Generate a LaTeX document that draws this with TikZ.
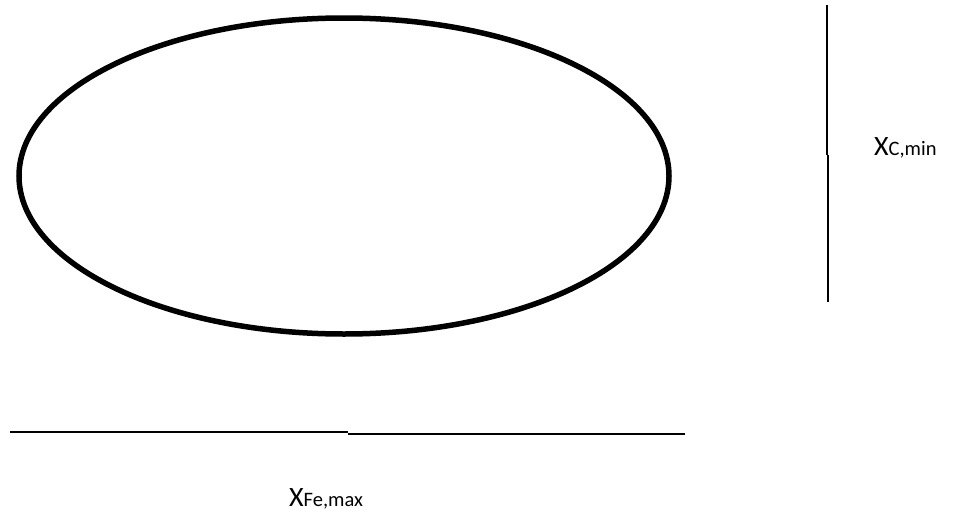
\documentclass[tikz,border=0pt]{standalone}
\usepackage{fontspec}
\setmainfont{Carlito}
\newcommand{\subsz}{\fontsize{20.5}{24}\selectfont}
\begin{document}
\begin{tikzpicture}[x=1pt,y=-1pt,
    sizelabel/.style={inner sep=0pt, anchor=base west, font=\fontsize{28}{32}\selectfont}]
    \useasboundingbox (0,0) rectangle (953,522);

    \draw [line width=5.5pt]
        (344,176) ellipse [x radius=325, y radius=158];

    \draw [line width=1.4pt]
        (827,5) -- (827,155)
        (828,155) -- (828,302)
        ;
    \draw [line width=1.4pt]
        (10,432) -- (348,432)
        (348,434) -- (685,434)
        ;

    \node [sizelabel] (xc) at (874,155) {X{\subsz C,min}};
    \node [sizelabel] (xfe) at (289,506) {X{\subsz Fe,max}};
\end{tikzpicture}
\end{document}
